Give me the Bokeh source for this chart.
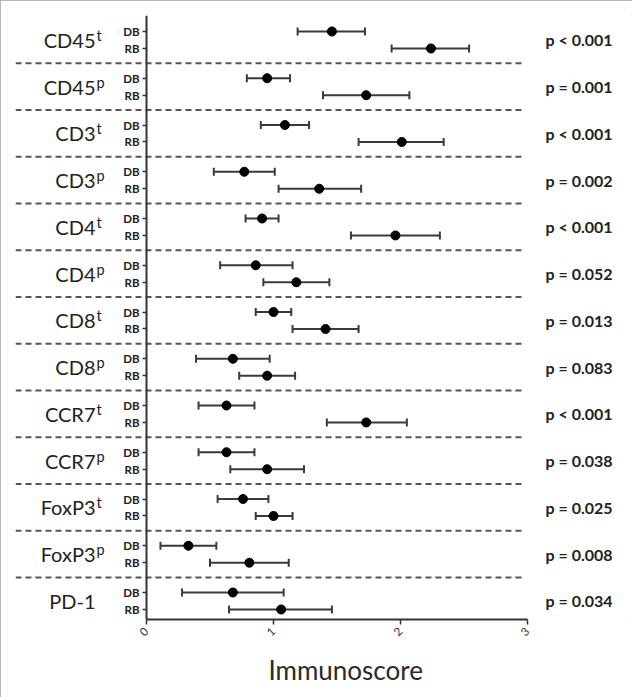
import math
from bokeh.plotting import figure
from bokeh.models import (Range1d, LinearAxis, FixedTicker, ColumnDataSource,
                          Whisker, TeeHead, Title)
from bokeh.core.properties import value
from bokeh.embed import file_html
from bokeh.resources import INLINE

# ---------------- data ----------------
groups = ["CD45", "CD45", "CD3", "CD3", "CD4", "CD4",
          "CD8", "CD8", "CCR7", "CCR7", "FoxP3", "FoxP3", "PD-1"]
group_sup = ["t", "p", "t", "p", "t", "p", "t", "p", "t", "p", "t", "p", ""]
cohorts = ["DB", "RB"]
db_mean = [1.46, 0.95, 1.09, 0.77, 0.91, 0.86, 1.00, 0.68, 0.63, 0.63, 0.76, 0.33, 0.68]
db_low  = [1.19, 0.79, 0.90, 0.53, 0.78, 0.58, 0.86, 0.39, 0.41, 0.41, 0.56, 0.11, 0.28]
db_high = [1.72, 1.13, 1.28, 1.01, 1.04, 1.15, 1.14, 0.97, 0.85, 0.85, 0.96, 0.55, 1.08]
rb_mean = [2.24, 1.73, 2.01, 1.36, 1.96, 1.18, 1.41, 0.95, 1.73, 0.95, 1.00, 0.81, 1.06]
rb_low  = [1.93, 1.39, 1.67, 1.04, 1.61, 0.92, 1.15, 0.73, 1.42, 0.66, 0.86, 0.50, 0.65]
rb_high = [2.54, 2.07, 2.34, 1.69, 2.31, 1.44, 1.67, 1.17, 2.05, 1.24, 1.15, 1.12, 1.46]
p_values = ["p < 0.001", "p = 0.001", "p < 0.001", "p = 0.002", "p < 0.001", "p = 0.052",
            "p = 0.013", "p = 0.083", "p < 0.001", "p = 0.038", "p = 0.025", "p = 0.008",
            "p = 0.034"]
x_ticks = [0, 1, 2, 3]
x_title = "Immunoscore"

# ---------------- layout ----------------
W, H = 632, 697
RB_OFF = 0.363          # vertical offset of RB row inside a group
px_per_x = 127.0        # screen px per x unit
x0_px = 146.0           # screen x of value 0
px_per_y = 46.75        # screen px per group
frame_left, frame_top, frame_bottom = 15, 15, 619
x_start = (frame_left - x0_px) / px_per_x
x_end = (W - x0_px) / px_per_x
y_top = -16 / px_per_y
y_bottom = y_top + (frame_bottom - frame_top) / px_per_y

def sx(px):
    return (px - x0_px) / px_per_x

p = figure(width=W, height=H, x_range=Range1d(x_start, x_end),
           y_range=Range1d(y_bottom, y_top), output_backend="svg",
           toolbar_location=None, y_axis_location=None,
           min_border_left=frame_left, min_border_right=0, min_border_top=frame_top,
           min_border_bottom=H - frame_bottom)
p.grid.visible = False
p.outline_line_color = None
p.background_fill_color = "white"
p.border_fill_color = "white"
p.styles = {"outline": "1px solid #a0a0a0", "outline-offset": "-1px"}

n = len(groups)
ys, lows, highs, means, tick_labels = [], [], [], [], {}
for g in range(n):
    for c, (m, lo, hi) in enumerate([(db_mean[g], db_low[g], db_high[g]),
                                      (rb_mean[g], rb_low[g], rb_high[g])]):
        y = g + c * RB_OFF
        ys.append(y); means.append(m); lows.append(lo); highs.append(hi)
        tick_labels[y] = cohorts[c]

src = ColumnDataSource(dict(y=ys, m=means, lo=lows, hi=highs))

# dashed separators
sep_y = [g + (RB_OFF + 1) / 2 for g in range(n - 1)]
p.segment(x0=[x_start] * len(sep_y), x1=[sx(524)] * len(sep_y), y0=sep_y, y1=sep_y,
          line_color="#555555", line_width=2, line_dash="6 4")

# error bars
bar_col = "#3a3a3a"
wh = Whisker(source=src, base="y", lower="lo", upper="hi", dimension="width",
             line_color=bar_col, line_width=2,
             upper_head=TeeHead(size=8, line_color=bar_col, line_width=2),
             lower_head=TeeHead(size=8, line_color=bar_col, line_width=2))
p.add_layout(wh)
p.scatter(x="m", y="y", source=src, size=9, marker="circle",
          fill_color="black", line_color="black")

# group labels (base + superscript)
mid = [g + RB_OFF / 2 for g in range(n)]
p.text(x=[sx(95)] * n, y=mid, text=groups, y_offset=0,
       text_align="right", text_baseline="alphabetic",
       text_font=value("Lato"), text_font_size="20px", text_color="#222222")
p.text(x=[sx(96)] * n, y=mid, text=group_sup, y_offset=-4.5,
       text_align="left", text_baseline="alphabetic",
       text_font=value("Lato"), text_font_size="14.5px", text_color="#222222")

# p values
p.text(x=[sx(545)] * n, y=mid, text=p_values,
       text_align="left", text_baseline="middle",
       text_font=value("Lato"), text_font_size="16px", text_font_style="bold",
       text_color="#222222")

# y axis at x = 0
yax = LinearAxis(fixed_location=0, ticker=FixedTicker(ticks=ys),
                 major_label_overrides=tick_labels)
yax.axis_line_color = "#333333"
yax.axis_line_width = 2
yax.major_tick_out = 4
yax.major_tick_in = 0
yax.major_tick_line_width = 1.5
yax.major_tick_line_color = "#333333"
yax.minor_tick_line_color = None
yax.major_label_standoff = 3
yax.major_label_text_font = "Lato"
yax.major_label_text_font_style = "bold"
yax.major_label_text_font_size = "11.5px"
yax.major_label_text_color = "#222222"
p.add_layout(yax, "left")

# x axis
xax = p.xaxis[0]
xax.ticker = FixedTicker(ticks=x_ticks)
xax.bounds = (0, 3)
xax.axis_line_color = "#333333"
xax.axis_line_width = 2
xax.major_tick_out = 5
xax.major_tick_in = 0
xax.major_tick_line_width = 1.5
xax.major_tick_line_color = "#333333"
xax.minor_tick_line_color = None
xax.major_label_orientation = math.pi / 4
xax.major_label_text_font = "Lato"
xax.major_label_text_font_size = "11.5px"
xax.major_label_text_color = "#333333"
xax.major_label_standoff = 5

# axis title below the axis, placed where the original has it
p.add_layout(Title(text=x_title, align="left", offset=253,
                   text_font="Lato", text_font_size="26px",
                   text_font_style="normal", text_color="#2a2a2a",
                   standoff=19), "below")

open("out.html", "w").write(file_html(p, INLINE))
